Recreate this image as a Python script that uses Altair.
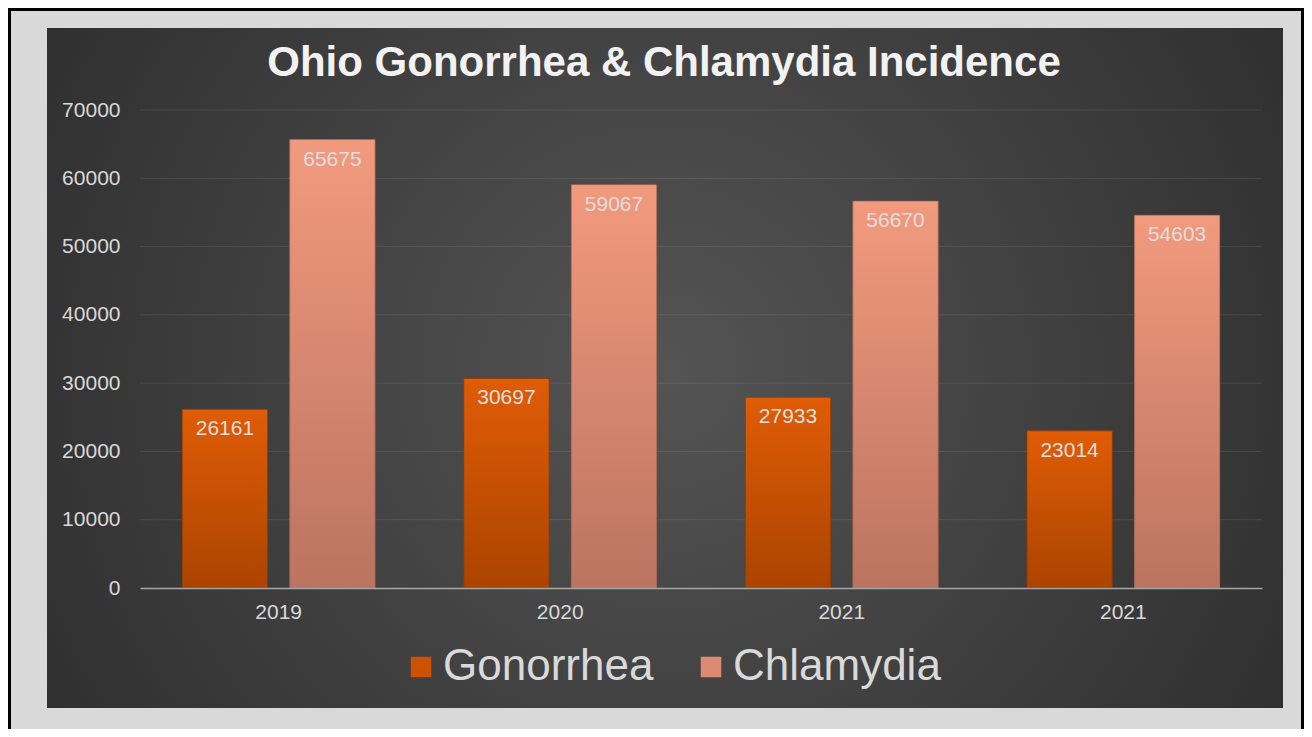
import json
import altair as alt
import pandas as pd

# ---- data ----
years = ["2019", "2020", "2021", "2021"]
series = ["Gonorrhea", "Chlamydia"]
gonorrhea = [26161, 30697, 27933, 23014]
chlamydia = [65675, 59067, 56670, 54603]
y_ticks = [0, 10000, 20000, 30000, 40000, 50000, 60000, 70000]

rows = []
for i in range(len(years)):
    rows.append({"slot": i, "series": "Gonorrhea", "value": gonorrhea[i]})
    rows.append({"slot": i, "series": "Chlamydia", "value": chlamydia[i]})
df = pd.DataFrame(rows)
grid_df = pd.DataFrame({"tick": y_ticks[1:]})

FONT = "Liberation Sans"
W, H = 1122, 478
PL, PT = 132, 102
TOTAL_W, TOTAL_H = 1296, 721
PR = TOTAL_W - PL - W
PB = TOTAL_H - PT - H

x_enc = alt.X(
    "slot:O",
    scale=alt.Scale(paddingInner=0.315, paddingOuter=0.15),
    axis=alt.Axis(
        title=None,
        labelExpr=json.dumps(years) + "[datum.value]",
        labelAngle=0,
        labelFont=FONT,
        labelFontSize=21,
        labelColor="#d9d9d9",
        labelPadding=13,
        ticks=False,
        domainColor="#a6a6a6",
        domainWidth=1.5,
        grid=False,
        zindex=1,
    ),
)
xo_enc = alt.XOffset("series:N", sort=series,
                     scale=alt.Scale(paddingInner=0.206, paddingOuter=0))
y_enc = alt.Y(
    "value:Q",
    scale=alt.Scale(domain=[0, 70000], nice=False),
    axis=alt.Axis(
        title=None,
        values=y_ticks,
        format="d",
        labelFont=FONT,
        labelFontSize=21,
        labelColor="#d9d9d9",
        labelPadding=20,
        ticks=False,
        domain=False,
        grid=False,
        zindex=1,
    ),
)

panel_fill = {
    "gradient": "radial",
    "x1": 0.5, "y1": 0.5, "x2": 0.5, "y2": 0.5, "r1": 0, "r2": 0.72,
    "stops": [
        {"offset": 0, "color": "#545454"},
        {"offset": 1, "color": "#262626"},
    ],
}
one = alt.Data(values=[{"a": 1}])

border = alt.Chart(one).mark_rect(
    fill="#d9d9d9", stroke="#000000", strokeWidth=3
).encode(
    x=alt.value(-PL + 1.5), x2=alt.value(W + PR - 1.5),
    y=alt.value(-PT + 1.5), y2=alt.value(H + PB + 10),
)

panel = alt.Chart(one).mark_rect(fill=panel_fill).encode(
    x=alt.value(-93), x2=alt.value(1143), y=alt.value(-82), y2=alt.value(598)
)

grid = alt.Chart(grid_df).mark_rule(color="#ffffff", opacity=0.09, strokeWidth=1).encode(
    y=alt.Y("tick:Q"),
)

base_bars = alt.Chart(df).mark_bar().encode(
    x=x_enc, xOffset=xo_enc, y=y_enc,
    color=alt.Color(
        "series:N", sort=series,
        scale=alt.Scale(domain=series, range=["#cc5202", "#dc8b73"]),
        legend=alt.Legend(
            title=None,
            orient="none",
            direction="horizontal",
            legendX=259,
            legendY=535,
            symbolType="square",
            symbolSize=420,
            symbolStrokeWidth=0,
            labelFont=FONT,
            labelFontSize=44,
            labelColor="#d9d9d9",
            labelOffset=0,
            columnPadding=35,
            labelLimit=400,
        ),
    ),
)

orange_grad = {
    "gradient": "linear", "x1": 0, "y1": 0, "x2": 0, "y2": 1,
    "stops": [
        {"offset": 0, "color": "#e05c06"},
        {"offset": 1, "color": "#ab4400"},
    ],
}
salmon_grad = {
    "gradient": "linear", "x1": 0, "y1": 0, "x2": 0, "y2": 1,
    "stops": [
        {"offset": 0, "color": "#f29a7e"},
        {"offset": 1, "color": "#bb7460"},
    ],
}

g_bars = alt.Chart(df).transform_filter(alt.datum.series == "Gonorrhea").mark_bar(
    fill=orange_grad, stroke="#7a3000", strokeWidth=1, strokeOpacity=0.6
).encode(x=x_enc, xOffset=xo_enc, y=y_enc)

c_bars = alt.Chart(df).transform_filter(alt.datum.series == "Chlamydia").mark_bar(
    fill=salmon_grad, stroke="#9a5a48", strokeWidth=1, strokeOpacity=0.6
).encode(x=x_enc, xOffset=xo_enc, y=y_enc)

labels = alt.Chart(df).mark_text(
    baseline="top", dy=9, font=FONT, fontSize=21, color="#dedede"
).encode(x=x_enc, xOffset=xo_enc, y=y_enc, text=alt.Text("value:Q", format="d"))

chart = alt.layer(border, panel, grid, base_bars, g_bars, c_bars, labels).properties(
    width=W,
    height=H,
    padding={"left": PL, "top": PT, "right": PR, "bottom": PB},
    autosize=alt.AutoSizeParams(type="none"),
    background="#d9d9d9",
    title=alt.TitleParams(
        "Ohio Gonorrhea & Chlamydia Incidence",
        font=FONT,
        fontSize=42,
        fontWeight="bold",
        color="#f2f2f2",
        anchor="middle",
        dx=-37,
        baseline="alphabetic",
        offset=-110,
    ),
).configure_view(stroke=None)

chart.save("out.html", embed_options={"renderer": "svg", "actions": False})
